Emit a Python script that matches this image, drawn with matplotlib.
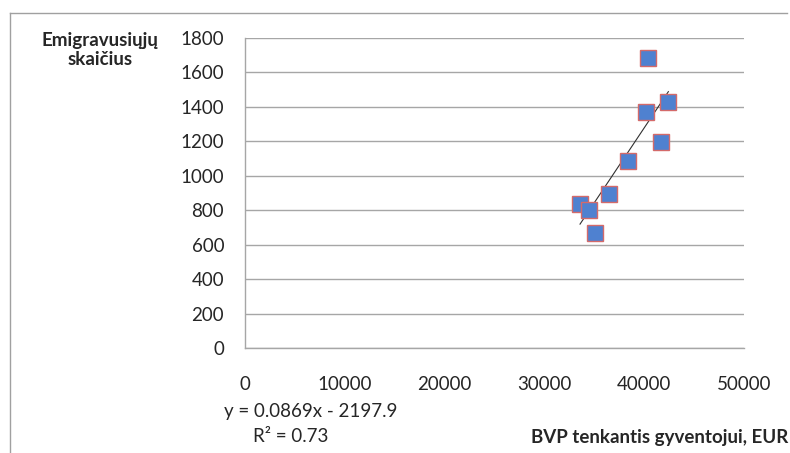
import numpy as np
import matplotlib.pyplot as plt
from matplotlib.lines import Line2D

plt.rcParams['font.family'] = ['Lato', 'DejaVu Sans']

##### Data
gdp = [33570, 34500, 35040, 36500, 38350, 40180, 40410, 41650, 42420]  # BVP per capita, EUR
emigrants = [836, 801, 666, 894, 1088, 1369, 1682, 1198, 1427]

# trendline as printed on the chart
slope = 0.0869
intercept = -2197.9
r2 = 0.73

x_ticks = [0, 10000, 20000, 30000, 40000, 50000]
y_ticks = list(range(0, 1801, 200))

##### Figure
W, H = 790, 453
fig = plt.figure(figsize=(W / 100, H / 100), dpi=100)
ax = fig.add_axes([245 / W, 1 - 348 / H, (744 - 245) / W, (348 - 38) / H])

txt_col = '#262626'
grid_col = '#a6a6a6'
fs = 13.5

ax.set_xlim(0, 50000)
ax.set_ylim(0, 1800)
ax.set_xticks(x_ticks)
ax.set_yticks(y_ticks)
ax.set_xticklabels([str(v) for v in x_ticks])
ax.set_yticklabels([str(v) for v in y_ticks])
ax.tick_params(axis='both', length=0, labelsize=fs, colors=txt_col)
ax.tick_params(axis='y', pad=15)
ax.tick_params(axis='x', pad=20)

ax.yaxis.grid(True, color=grid_col, linewidth=1.0)
ax.set_axisbelow(True)
for s in ['top', 'right']:
    ax.spines[s].set_visible(False)
for s in ['left', 'bottom']:
    ax.spines[s].set_color(grid_col)
    ax.spines[s].set_linewidth(1.0)

# trend line over the data range
xs = np.array([min(gdp), max(gdp)])
ax.plot(xs, slope * xs + intercept, color='#303030', linewidth=0.8, zorder=2)

ax.plot(gdp, emigrants, linestyle='none', marker='s', markersize=11,
        markerfacecolor='#4f81d0', markeredgecolor='#d46a6a',
        markeredgewidth=1.0, zorder=3, clip_on=False)

##### Texts
fig.text(100 / W, 1 - 50 / H, 'Emigravusiųjų\nskaičius', ha='center', va='center',
         fontsize=fs, fontweight='bold', color=txt_col, linespacing=1.2)
fig.text(788 / W, 1 - 437 / H, 'BVP tenkantis gyventojui, EUR', ha='right',
         va='center', fontsize=fs, fontweight='bold', color=txt_col)
fig.text(311 / W, 1 - 412 / H, 'y = %.4fx - %.1f' % (slope, -intercept),
         ha='center', va='center', fontsize=fs, color=txt_col)
fig.text(291 / W, 1 - 437 / H, 'R² = %.2f' % r2, ha='center', va='center',
         fontsize=fs, color=txt_col)

# outer chart frame (top and left edges visible)
fig.add_artist(Line2D([10 / W, 787 / W], [1 - 13 / H, 1 - 13 / H],
                      transform=fig.transFigure, color='#a0a0a0', linewidth=1.0))
fig.add_artist(Line2D([10 / W, 10 / W], [1 - 13 / H, 0],
                      transform=fig.transFigure, color='#a0a0a0', linewidth=1.0))

fig.savefig('out.png', dpi=100)
